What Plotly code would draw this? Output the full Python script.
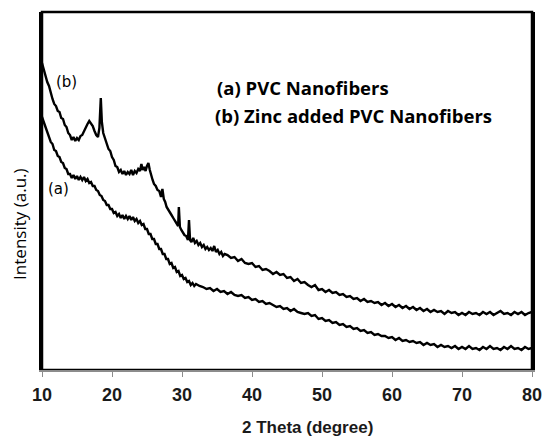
import plotly.graph_objects as go

# Series (b): Zinc added PVC nanofibers (2theta in degree, intensity a.u.)
theta_b = [10.0, 10.25, 10.5, 10.75, 11.0, 11.25, 11.5, 11.75, 12.0, 12.25, 12.5, 12.75, 13.0, 13.25, 13.5, 13.75,
           14.0, 14.25, 14.5, 14.75, 15.0, 15.25, 15.5, 15.75, 16.0, 16.25, 16.5, 16.75, 17.0, 17.25, 17.5, 17.75,
           18.0, 18.2, 18.4, 18.55, 18.75, 19.0, 19.25, 19.5, 19.75, 20.0, 20.25, 20.5, 20.75, 21.0, 21.25, 21.5,
           21.75, 22.0, 22.25, 22.5, 22.75, 23.0, 23.25, 23.5, 23.75, 24.0, 24.2, 24.4, 24.6, 24.8, 25.0, 25.2,
           25.4, 25.6, 25.8, 26.0, 26.25, 26.5, 26.75, 27.0, 27.2, 27.4, 27.6, 27.8, 28.0, 28.25, 28.5, 28.75,
           29.0, 29.25, 29.45, 29.55, 29.7, 29.9, 30.1, 30.35, 30.6, 30.85, 31.0, 31.15, 31.35, 31.6, 31.85, 32.1,
           32.35, 32.6, 32.85, 33.1, 33.35, 33.6, 33.85, 34.1, 34.35, 34.6, 34.85, 35.1, 35.35, 35.6, 35.85, 36.1,
           36.5, 37.0, 37.5, 38.0, 38.5, 39.0, 39.5, 40.0, 40.5, 41.0, 41.5, 42.0, 42.5, 43.0, 43.5, 44.0,
           44.5, 45.0, 45.5, 46.0, 46.5, 47.0, 47.5, 48.0, 48.5, 49.0, 49.5, 50.0, 50.5, 51.0, 51.5, 52.0,
           52.5, 53.0, 53.5, 54.0, 54.5, 55.0, 55.5, 56.0, 56.5, 57.0, 57.5, 58.0, 58.5, 59.0, 59.5, 60.0,
           60.5, 61.0, 61.5, 62.0, 62.5, 63.0, 63.5, 64.0, 64.5, 65.0, 65.5, 66.0, 66.5, 67.0, 67.5, 68.0,
           68.5, 69.0, 69.5, 70.0, 70.5, 71.0, 71.5, 72.0, 72.5, 73.0, 73.5, 74.0, 74.5, 75.0, 75.5, 76.0,
           76.5, 77.0, 77.5, 78.0, 78.5, 79.0, 79.5, 80.0]
intensity_b = [307, 300, 296, 288, 284, 276, 271, 266, 264, 259, 258, 252, 251, 245, 243, 237,
               235, 230, 233, 229, 232, 230, 234, 235, 239, 242, 246, 249, 247, 244, 239, 235,
               233, 242, 272, 248, 237, 231, 227, 221, 219, 213, 210, 204, 203, 198, 200, 196,
               199, 195, 198, 196, 200, 195, 199, 197, 201, 199, 206, 200, 203, 199, 204, 207,
               200, 194, 190, 186, 184, 180, 179, 173, 181, 171, 168, 163, 161, 158, 155, 152,
               149, 146, 144, 163, 143, 140, 138, 135, 134, 130, 150, 130, 128, 132, 127, 129,
               125, 127, 123, 125, 121, 123, 120, 122, 119, 124, 118, 120, 116, 118, 114, 116,
               115, 112, 113, 109, 111, 107, 106, 107, 103, 104, 100, 101, 99, 96, 98, 95,
               96, 92, 93, 89, 91, 87, 88, 85, 83, 85, 80, 81, 78, 80, 77, 78,
               75, 76, 73, 74, 71, 72, 69, 71, 68, 69, 67, 68, 65, 67, 64, 66,
               63, 65, 62, 64, 61, 63, 60, 62, 59, 61, 58, 60, 58, 59, 56, 59,
               57, 58, 55, 57, 55, 58, 56, 57, 55, 58, 56, 58, 55, 57, 59, 56,
               57, 55, 58, 56, 58, 55, 57, 58]

# Series (a): PVC nanofibers
theta_a = [10.0, 10.25, 10.5, 10.75, 11.0, 11.25, 11.5, 11.75, 12.0, 12.25, 12.5, 12.75, 13.0, 13.25, 13.5, 13.75,
           14.0, 14.25, 14.5, 14.75, 15.0, 15.25, 15.5, 15.75, 16.0, 16.25, 16.5, 16.75, 17.0, 17.25, 17.5, 17.75,
           18.0, 18.25, 18.5, 18.75, 19.0, 19.25, 19.5, 19.75, 20.0, 20.25, 20.5, 20.75, 21.0, 21.25, 21.5, 21.75,
           22.0, 22.25, 22.5, 22.75, 23.0, 23.25, 23.5, 23.75, 24.0, 24.25, 24.5, 24.75, 25.0, 25.25, 25.5, 25.75,
           26.0, 26.25, 26.5, 26.75, 27.0, 27.25, 27.5, 27.75, 28.0, 28.25, 28.5, 28.75, 29.0, 29.25, 29.5, 29.75,
           30.0, 30.25, 30.5, 30.75, 31.0, 31.25, 31.5, 31.75, 32.0, 32.5, 33.0, 33.5, 34.0, 34.5, 35.0, 35.5,
           36.0, 36.5, 37.0, 37.5, 38.0, 38.5, 39.0, 39.5, 40.0, 40.5, 41.0, 41.5, 42.0, 42.5, 43.0, 43.5,
           44.0, 44.5, 45.0, 45.5, 46.0, 46.5, 47.0, 47.5, 48.0, 48.5, 49.0, 49.5, 50.0, 50.5, 51.0, 51.5,
           52.0, 52.5, 53.0, 53.5, 54.0, 54.5, 55.0, 55.5, 56.0, 56.5, 57.0, 57.5, 58.0, 58.5, 59.0, 59.5,
           60.0, 60.5, 61.0, 61.5, 62.0, 62.5, 63.0, 63.5, 64.0, 64.5, 65.0, 65.5, 66.0, 66.5, 67.0, 67.5,
           68.0, 68.5, 69.0, 69.5, 70.0, 70.5, 71.0, 71.5, 72.0, 72.5, 73.0, 73.5, 74.0, 74.5, 75.0, 75.5,
           76.0, 76.5, 77.0, 77.5, 78.0, 78.5, 79.0, 79.5, 80.0]
intensity_a = [253, 248, 244, 237, 234, 228, 226, 220, 219, 214, 213, 208, 207, 202, 201, 196,
               196, 192, 195, 191, 194, 190, 193, 190, 193, 189, 191, 187, 188, 184, 184, 180,
               179, 175, 174, 170, 169, 165, 165, 161, 161, 157, 158, 154, 156, 152, 155, 151,
               154, 151, 154, 150, 153, 149, 151, 147, 149, 145, 146, 141, 141, 136, 136, 131,
               131, 126, 126, 121, 121, 116, 116, 111, 111, 106, 107, 102, 103, 98, 99, 94,
               95, 91, 92, 88, 89, 85, 87, 84, 86, 84, 83, 81, 82, 79, 81, 78,
               79, 76, 78, 75, 74, 75, 72, 73, 70, 71, 68, 69, 66, 67, 65, 63,
               64, 61, 62, 59, 61, 58, 57, 56, 57, 54, 55, 51, 52, 49, 50, 47,
               48, 45, 46, 43, 44, 41, 42, 39, 40, 37, 38, 35, 36, 34, 34, 32,
               33, 30, 32, 29, 30, 28, 29, 27, 28, 25, 27, 25, 26, 23, 25, 23,
               24, 22, 24, 21, 23, 21, 24, 21, 22, 20, 23, 21, 24, 21, 22, 20,
               23, 21, 24, 21, 22, 20, 23, 21, 22]

assert len(theta_a) == len(intensity_a), (len(theta_a), len(intensity_a))
assert len(theta_b) == len(intensity_b), (len(theta_b), len(intensity_b))

x_ticks = [10, 20, 30, 40, 50, 60, 70, 80]

fig = go.Figure()
fig.add_trace(go.Scatter(x=theta_b, y=intensity_b, mode="lines",
                         line=dict(color="black", width=2.4), name="(b)"))
fig.add_trace(go.Scatter(x=theta_a, y=intensity_a, mode="lines",
                         line=dict(color="black", width=2.4), name="(a)"))

fig.update_layout(
    width=545, height=439,
    margin=dict(l=42, r=13, t=12, b=69, autoexpand=False),
    paper_bgcolor="white", plot_bgcolor="white",
    showlegend=False,
    xaxis=dict(range=[10, 80], tickvals=x_ticks, showgrid=False, zeroline=False,
               automargin=False,
               showline=True, linecolor="#8c8c8c", linewidth=2,
               ticks="outside", ticklen=5, tickcolor="#8c8c8c", tickwidth=1,
               ticklabelstandoff=2,
               tickfont=dict(family="Liberation Sans", size=18, color="#1a1a1a", weight="bold")),
    yaxis=dict(range=[0, 358], showgrid=False, zeroline=False, showticklabels=False,
               automargin=False,
               showline=True, linecolor="black", linewidth=2.5, mirror=True, ticks=""),
    shapes=[dict(type="rect", xref="paper", yref="paper", x0=0, x1=1, y0=0, y1=1,
                 layer="below", line=dict(color="black", width=2.5))],
    annotations=[
        dict(text="(a) PVC Nanofibers", xref="paper", yref="paper", x=0.353, y=0.7905,
             xanchor="left", yanchor="middle", showarrow=False,
             font=dict(family="Open Sans", size=18.5, color="black", weight="bold")),
        dict(text="(b) Zinc added PVC Nanofibers", xref="paper", yref="paper", x=0.349, y=0.712,
             xanchor="left", yanchor="middle", showarrow=False,
             font=dict(family="Open Sans", size=18.5, color="black", weight="bold")),
        dict(text="(b)", xref="x", yref="y", x=13.43, y=288, xanchor="center", yanchor="middle",
             showarrow=False, font=dict(family="DejaVu Sans", size=15, color="black")),
        dict(text="(a)", xref="x", yref="y", x=12.29, y=181, xanchor="center", yanchor="middle",
             showarrow=False, font=dict(family="DejaVu Sans", size=15, color="black")),
        dict(text="Intensity (a.u.)", xref="paper", yref="paper", x=-0.045, y=0.408,
             xanchor="center", yanchor="middle", textangle=-90, showarrow=False,
             font=dict(family="Open Sans", size=17, color="black")),
        dict(text="2 Theta (degree)", xref="paper", yref="paper", x=0.404, y=-0.160,
             xanchor="left", yanchor="middle", showarrow=False,
             font=dict(family="Liberation Sans", size=17, color="#1a1a1a", weight="bold")),
    ],
)

fig.write_html("out.html", config={"displayModeBar": False},
               post_script="document.body.style.margin='0';document.body.style.overflow='hidden';")
